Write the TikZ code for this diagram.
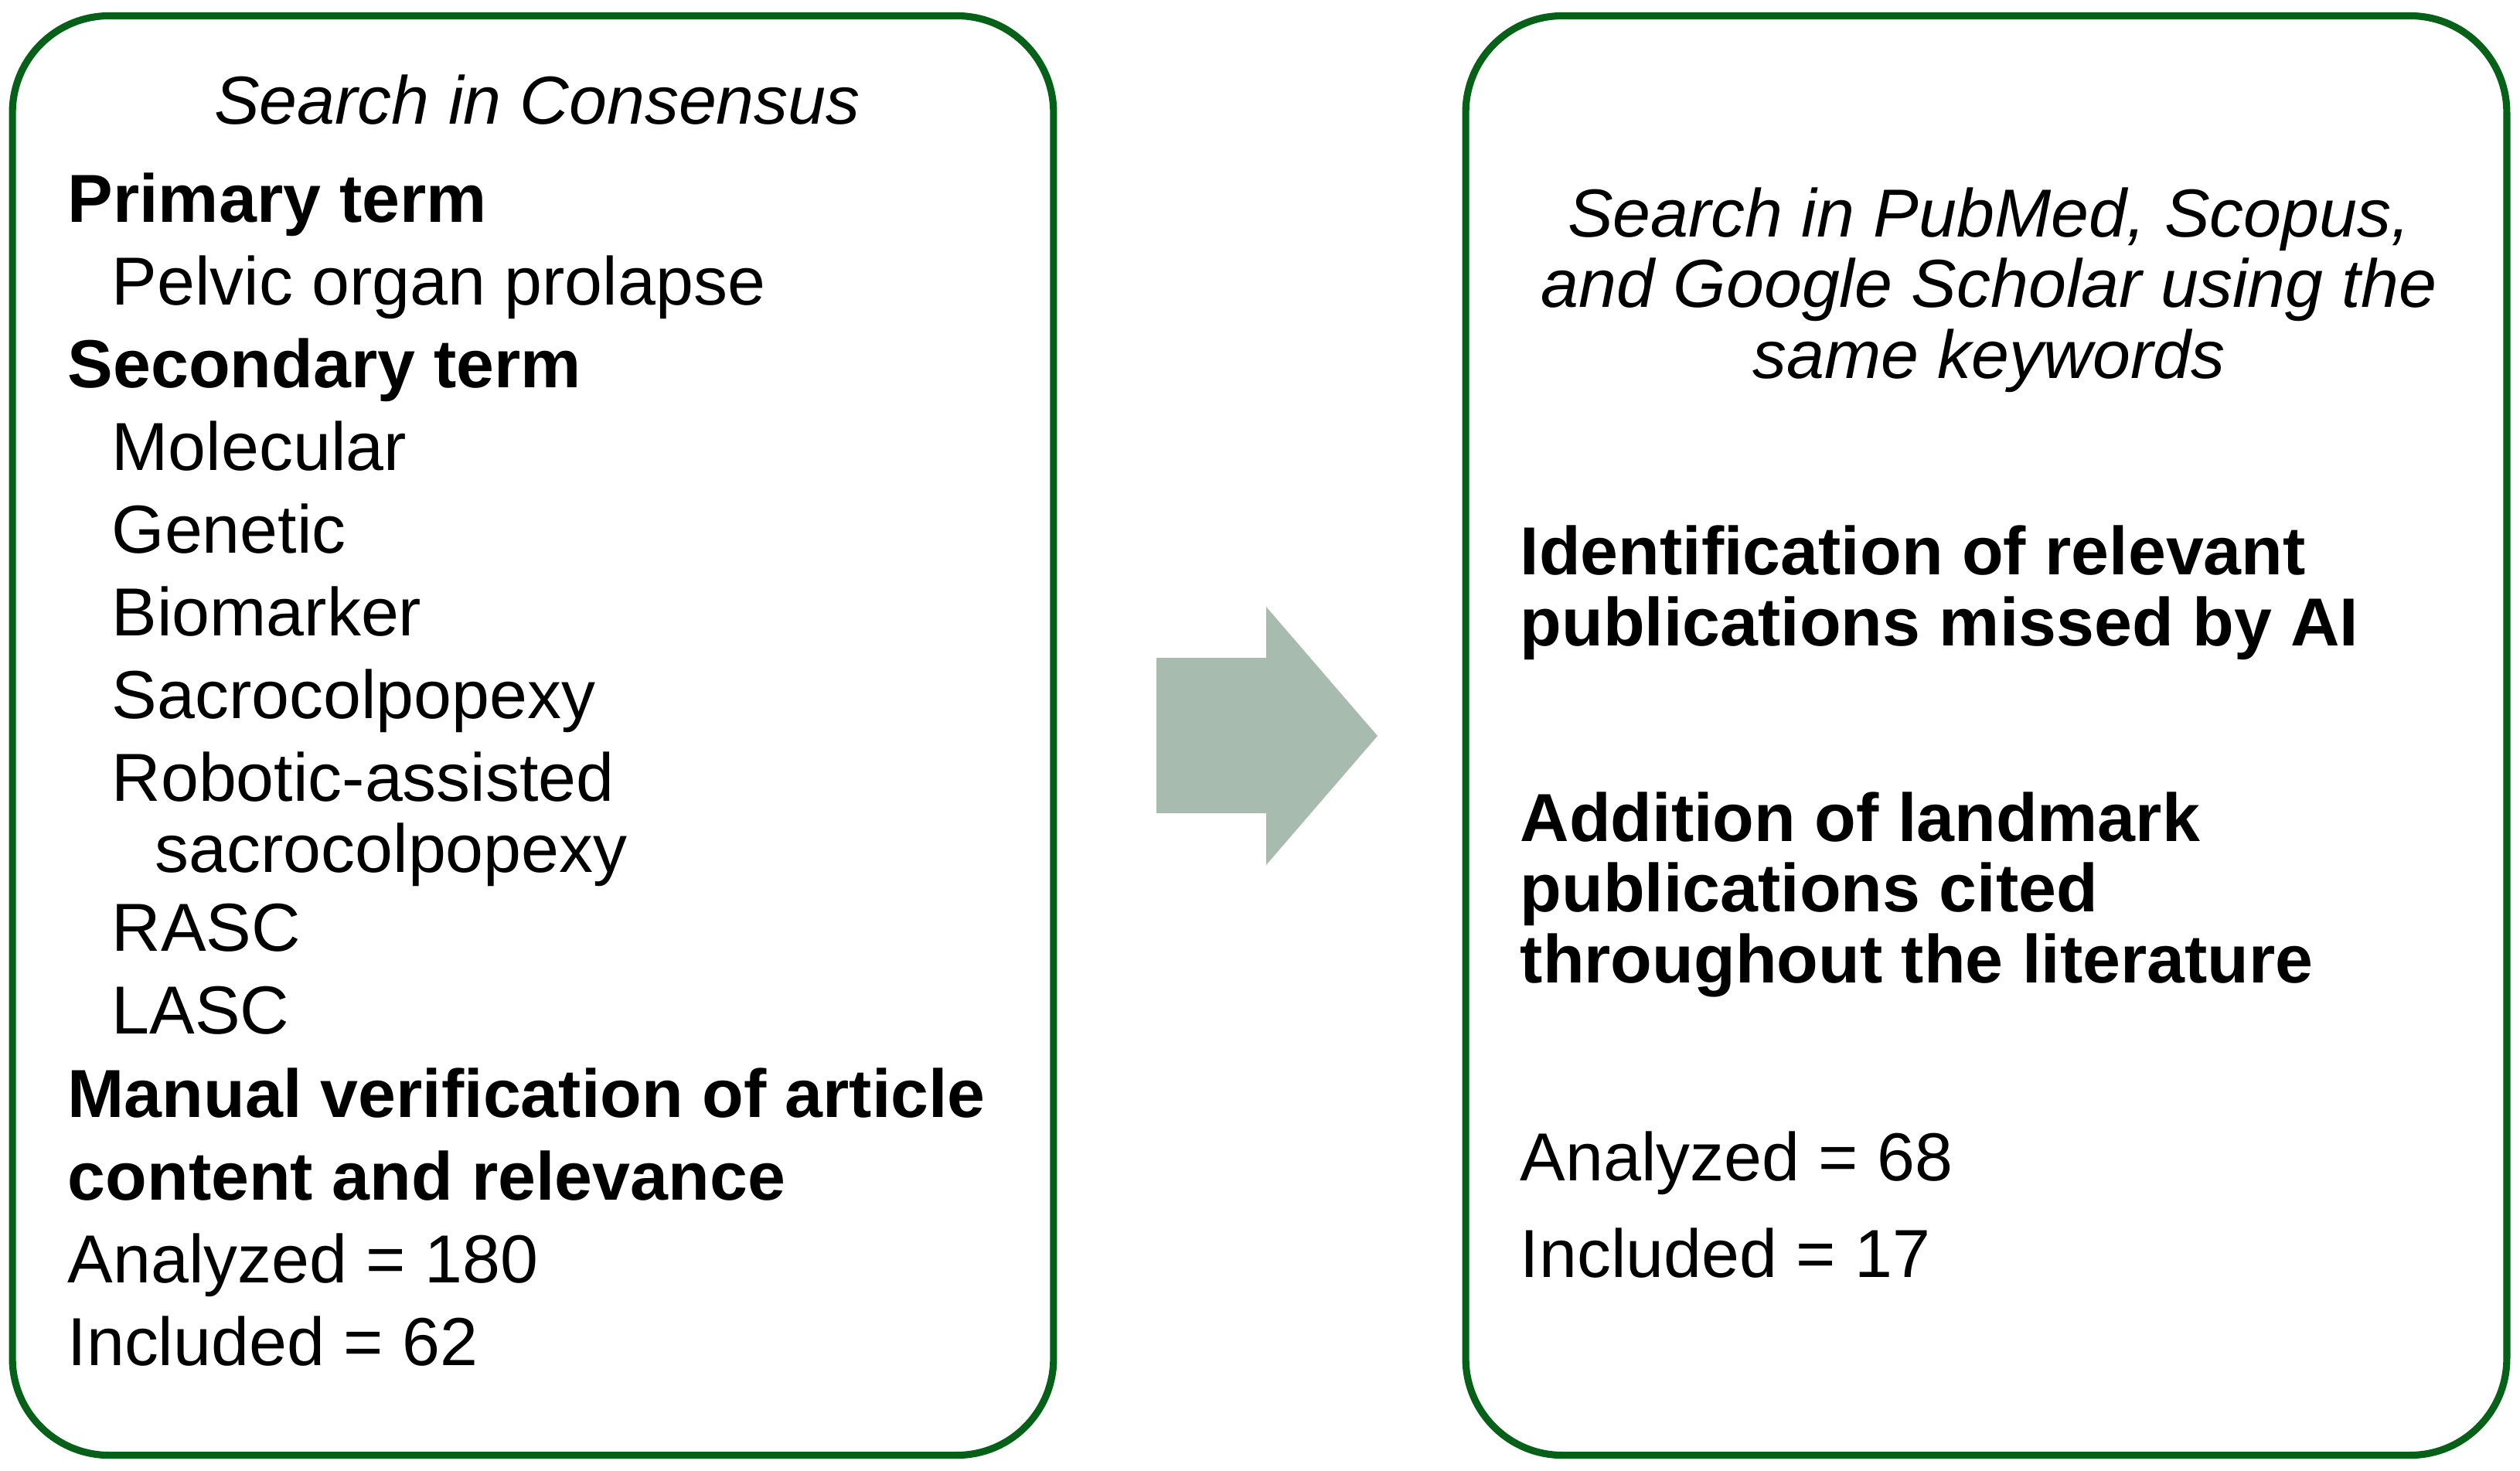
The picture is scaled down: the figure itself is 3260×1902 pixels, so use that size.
\documentclass[tikz,border=0pt]{standalone}
\usepackage{fontspec}
\setmainfont{Liberation Sans}
\usepackage{tikz}
\definecolor{boxgreen}{RGB}{5,96,24}
\definecolor{arrowgray}{RGB}{167,187,175}

\begin{document}
\begin{tikzpicture}[
    x=0.01cm, y=-0.01cm,
    frame/.style={draw=boxgreen, line width=2.6pt, rounded corners=1.25cm, minimum width=13.46cm, minimum height=18.61cm, inner sep=0pt},
    txt/.style={font=\fontsize{25}{26}\selectfont, inner sep=0pt, anchor=base west, align=left},
    head/.style={txt, font=\fontsize{25}{26}\selectfont\bfseries},
    title/.style={txt, font=\fontsize{25}{26}\selectfont\itshape, anchor=base, align=center},
    blockarrow/.style={fill=arrowgray}
]
    \useasboundingbox (0,0) rectangle (3260,1902);

    % the two search boxes
    \node[frame] (consensus) at (689.5,951.5) {};
    \node[frame] (databases) at (2569.5,951.5) {};

    % arrow between them
    \fill[blockarrow] (1496,851) -- (1638,851) -- (1638,785) -- (1782,952)
        -- (1638,1119) -- (1638,1052) -- (1496,1052) -- cycle;

    % left box (multi-line nodes sit on their last baseline)
    \node[title] (consensus_title) at (695,160) {Search in Consensus};
    \node[head] (primary_term) at (87,287) {Primary term};
    \node[txt] (pop) at (144,394) {Pelvic organ prolapse};
    \node[head] (secondary_term) at (87,501) {Secondary term};
    \node[txt] (molecular) at (144,608) {Molecular};
    \node[txt] (genetic) at (144,715) {Genetic};
    \node[txt] (biomarker) at (144,822) {Biomarker};
    \node[txt] (sacro) at (144,929) {Sacrocolpopexy};
    \node[txt] (robotic) at (144,1128) {Robotic-assisted\\\hspace*{0.56cm}sacrocolpopexy};
    \node[txt] (rasc) at (144,1230) {RASC};
    \node[txt] (lasc) at (144,1337) {LASC};
    \node[head, font=\fontsize{25}{30.4}\selectfont\bfseries] (manual) at (87,1552)
        {Manual verification of article\\content and relevance};
    \node[txt] (analyzed_left) at (87,1659) {Analyzed = 180};
    \node[txt] (included_left) at (87,1766) {Included = 62};

    % right box
    \node[title] (databases_title) at (2573,489)
        {Search in PubMed, Scopus,\\and Google Scholar using the\\same keywords};
    \node[head] (missed) at (1966,835) {Identification of relevant\\publications missed by AI};
    \node[head] (landmark) at (1966,1271) {Addition of landmark\\publications cited\\throughout the literature};
    \node[txt] (analyzed_right) at (1966,1527) {Analyzed = 68};
    \node[txt] (included_right) at (1966,1652) {Included = 17};

\end{tikzpicture}
\end{document}
